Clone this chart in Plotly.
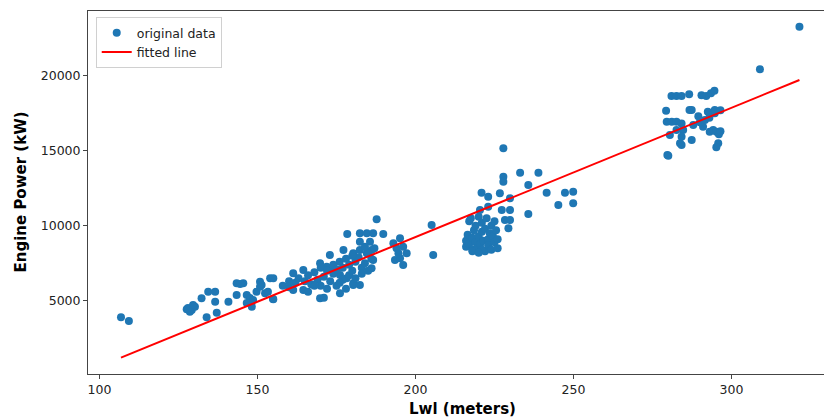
import plotly.graph_objects as go

# Lwl (meters) and Engine Power (kW)
lwl = [
    106.8, 109.3,
    127.6, 129.2, 130.2, 128.6, 128.0, 129.6, 132.3, 134.4, 136.6, 136.6, 133.9, 137.1,
    140.8, 143.4, 143.4, 145.5, 144.5, 146.6, 147.6, 148.6, 146.6, 148.2, 149.7, 150.8,
    151.3, 152.4, 153.3, 154.0, 154.9,
    150.8, 155.0, 155.0, 161.3, 161.3, 164.5, 164.5, 169.8, 169.8, 171.9, 174.0, 172.9,
    176.1, 176.1, 177.2, 178.2, 178.4, 180.3, 180.3, 180.3, 182.4, 182.4, 182.4, 182.4,
    184.6, 184.6, 185.6, 186.1, 186.6, 186.6, 186.1, 187.7, 189.8, 193.0, 195.1, 197.2,
    193.5, 196.1, 194.0, 196.1, 195.1, 194.6,
    162, 163, 165, 166, 167, 168, 169, 170, 170, 171, 172, 172, 173, 174, 174, 175, 175,
    176, 177, 177, 178, 178, 179, 179, 180, 181, 181, 182, 183, 183, 184, 185, 185, 186,
    187, 184, 180, 176, 168, 171, 166, 160, 158, 160,
    205.1, 205.6,
    227.8, 227.8, 227.8, 233.1, 238.9, 235.7, 241.5, 247.3, 249.9, 245.2, 249.9, 235.7,
    220.9, 223.0, 226.7, 229.9, 227.3, 229.9, 228.3, 229.9, 229.4, 223.0, 220.4,
    216, 216, 216.5, 217, 217, 217.5, 218, 218, 218.5, 219, 219, 219.5, 220, 220, 220.5,
    221, 221, 221.5, 222, 222, 222.5, 223, 223, 223.5, 224, 224, 224.5, 225, 225, 225.5,
    226, 226, 218, 221, 220,
    279.7, 283.7,
    309.0, 281.0, 282.6, 284.2, 286.6, 292.0, 293.5, 294.6, 279.3, 286.7, 287.4,
    279.5, 281.1, 282.6, 284.2, 284.7, 282.6, 280.5, 287.9, 287.4, 284.2, 284.2,
    291.6, 294.7, 294.7, 291.0, 293.1, 294.2, 295.2, 295.8, 295.2, 280.0,
    296.5, 296.0, 296.5, 293.0, 290.0, 289.5, 290.5, 292.5,
    321.5,
]
power = [
    3900, 3650,
    4427, 4380, 4600, 4267, 4513, 4713, 5160, 5600, 5600, 4933, 3893, 4200,
    4933, 5380, 6160, 6160, 6113, 5380, 5180, 5047, 4847, 4600, 5600, 6267,
    6047, 5493, 5600, 6493, 5113,
    5933, 6493, 5093, 6827, 5713, 7047, 5713, 5160, 7493, 7267, 7047, 8047,
    6713, 5493, 8380, 6493, 9447, 8160, 6160, 6047, 9493, 8933, 8380, 6047,
    9493, 8160, 8933, 8380, 9493, 7713, 7160, 10427, 9447, 8827, 9160, 8160,
    7713, 7380, 8493, 8600, 7827, 8160,
    6200, 6500, 6300, 6700, 6100, 6900, 6400, 7200, 6000, 6600, 5800, 7000, 6300, 7400, 6800, 6000, 7100,
    7600, 6400, 7200, 5800, 7800, 6700, 7400, 7000, 7600, 6500, 7900, 7200, 6800, 7500, 8200, 7000, 7800,
    8500, 8600, 8000, 6200, 6000, 5200, 5600, 5900, 6000, 6300,
    10047, 8047,
    15160, 13267, 12933, 13533, 13533, 12713, 12200, 12200, 12267, 11380, 11493, 10780,
    12200, 11933, 12160, 11827, 11047, 11047, 10380, 10380, 9827, 11267, 11047,
    8600, 9000, 9400, 8800, 10300, 10500, 9200, 8400, 9700, 8900, 10000, 8500, 9300, 10600, 8800,
    9600, 10200, 9000, 8300, 9800, 10500, 9100, 8700, 9500, 10000, 8400, 9300, 8900, 10300, 9700,
    8500, 9100, 8300, 8400, 8200,
    14713, 15493,
    20427, 18650, 18650, 18650, 18760, 18650, 18827, 19000, 17670, 17713, 17713,
    16930, 16930, 16930, 16820, 16380, 16380, 16047, 16713, 15713, 15933, 15380,
    17047, 17500, 17713, 16600, 16270, 16380, 16270, 15493, 15227, 14667,
    17700, 16100, 16300, 17200, 16900, 17300, 18700, 17600,
    23267,
]

# tick values / labels
x_ticks = [100, 150, 200, 250, 300]
y_ticks = [5000, 10000, 15000, 20000]
y_ticklabels = ["5000", "10000", "15000", "20000"]

# fitted line parameters
fit_slope = 86.2
fit_intercept = -7997

x_range = [96.36, 329.27]
y_range = [113, 24314]

fit_x = [min(lwl), max(lwl)]
fit_y = [fit_slope * v + fit_intercept for v in fit_x]

FONT = "DejaVu Sans"

fig = go.Figure()
fig.add_trace(go.Scatter(
    x=lwl, y=power, mode="markers", name="original data",
    marker=dict(color="#1f77b4", size=8, line=dict(width=0)),
))
fig.add_trace(go.Scatter(
    x=fit_x, y=fit_y, mode="lines", name="fitted line",
    line=dict(color="red", width=2),
))

axis_common = dict(
    showgrid=False, zeroline=False, showline=True, linecolor="#444", linewidth=1,
    ticks="outside", ticklen=4, tickcolor="#444", tickwidth=1,
    tickfont=dict(family=FONT, size=12.5, color="#222"),
)

fig.update_layout(
    width=824, height=417,
    margin=dict(l=88, r=0, t=11, b=43),
    paper_bgcolor="white", plot_bgcolor="white",
    font=dict(family=FONT, size=12.5, color="#222"),
    xaxis=dict(range=x_range, tickvals=x_ticks, ticktext=[str(v) for v in x_ticks],
               mirror=True, **axis_common),
    yaxis=dict(range=y_range, tickvals=y_ticks, ticktext=y_ticklabels,
               mirror=False, **axis_common),
    legend=dict(
        x=0.0105, y=0.983, xanchor="left", yanchor="top",
        bgcolor="white", bordercolor="#d0d0d0", borderwidth=1,
        font=dict(family=FONT, size=12.5, color="#222"),
        tracegroupgap=0, itemwidth=30,
    ),
    showlegend=True,
    annotations=[
        dict(text="<b>Lwl (meters)</b>", xref="paper", yref="paper", x=(462 - 88) / 736, y=0,
             yshift=-35, xanchor="center", yanchor="middle", showarrow=False,
             font=dict(family=FONT, size=15, color="black")),
        dict(text="<b>Engine Power (kW)</b>", xref="paper", yref="paper", x=0, y=0.5,
             xshift=-68, textangle=-90, xanchor="center", yanchor="middle", showarrow=False,
             font=dict(family=FONT, size=15, color="black")),
    ],
)

fig.write_html("out.html", config={"displayModeBar": False})
